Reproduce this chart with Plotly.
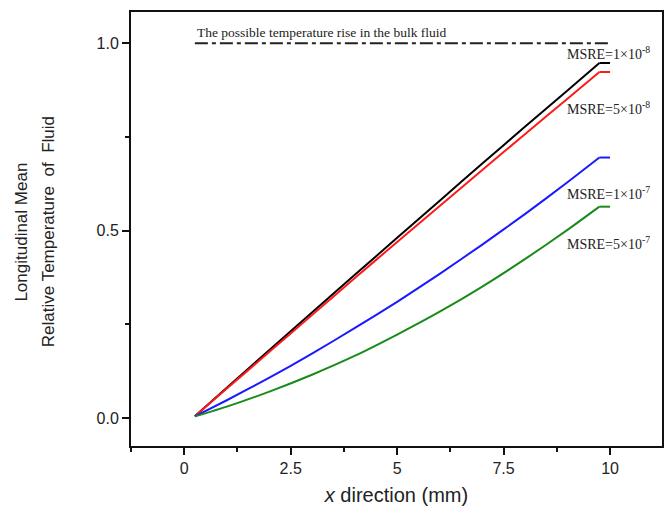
import plotly.graph_objects as go

# Data (curve part, then flat end part)
curve_x = [0.25, 1.0, 2.0, 3.0, 4.0, 5.0, 6.0, 7.0, 8.0, 9.0, 9.75]
black_y = [0.005, 0.081, 0.182, 0.282, 0.382, 0.481, 0.580, 0.679, 0.777, 0.874, 0.947]
red_y = [0.005, 0.079, 0.177, 0.275, 0.373, 0.470, 0.566, 0.662, 0.757, 0.852, 0.923]
blue_y = [0.005, 0.048, 0.108, 0.172, 0.240, 0.310, 0.385, 0.463, 0.544, 0.629, 0.695]
green_y = [0.005, 0.031, 0.071, 0.116, 0.166, 0.223, 0.284, 0.351, 0.424, 0.502, 0.564]
end_x = [9.75, 10.0]
bulk_x = [0.25, 10.0]
bulk_y = [1.0, 1.0]

labels = ["MSRE=1×10<sup>-8</sup>", "MSRE=5×10<sup>-8</sup>",
          "MSRE=1×10<sup>-7</sup>", "MSRE=5×10<sup>-7</sup>"]
label_x = [8.95, 8.95, 8.95, 8.95]
label_y = [0.974, 0.827, 0.600, 0.467]
bulk_text = "The possible temperature rise in the bulk fluid"
y_title_lines = ["Longitudinal Mean", "Relative Temperature  of  Fluid"]

x_ticks = [0, 2.5, 5, 7.5, 10]
x_ticktext = ["0", "2.5", "5", "7.5", "10"]
y_ticks = [0.0, 0.5, 1.0]
y_ticktext = ["0.0", "0.5", "1.0"]

fig = go.Figure()
fig.add_trace(go.Scatter(x=bulk_x, y=bulk_y, mode="lines",
                         line=dict(color="#222222", width=2, dash="13px,4px,4px,4px")))
for ys, c in [(black_y, "#000000"), (red_y, "#ff1a1a"),
              (blue_y, "#1a1aff"), (green_y, "#1a8a1a")]:
    fig.add_trace(go.Scatter(x=curve_x, y=ys, mode="lines",
                             line=dict(color=c, width=2, shape="spline", smoothing=0.5)))
    fig.add_trace(go.Scatter(x=end_x, y=[ys[-1], ys[-1]], mode="lines",
                             line=dict(color=c, width=2)))

serif = "Liberation Serif, Times New Roman, serif"
for t, lx, ly in zip(labels, label_x, label_y):
    fig.add_annotation(x=lx, y=ly, text=t, showarrow=False, xanchor="left",
                       yanchor="middle", font=dict(family=serif, size=14, color="#222"))
fig.add_annotation(x=0.25, y=1.0, text=bulk_text, showarrow=False, xanchor="left",
                   yanchor="bottom", yshift=1, font=dict(family=serif, size=13.5, color="#222"))

sans = "Liberation Sans, Arial, sans-serif"
for t, px in zip(y_title_lines, [-0.208, -0.156]):
    fig.add_annotation(x=px, y=0.493, xref="paper", yref="paper", text=t,
                       showarrow=False, textangle=-90, xanchor="center", yanchor="middle",
                       font=dict(family=sans, size=17, color="#222"))

fig.update_layout(
    width=669, height=508,
    margin=dict(l=131, r=5, t=12, b=62),
    plot_bgcolor="white", paper_bgcolor="white",
    showlegend=False,
    xaxis=dict(range=[-1.25, 11.22], tickvals=x_ticks, ticktext=x_ticktext,
               ticks="outside", ticklen=7, tickwidth=2, tickcolor="#111",
               minor=dict(dtick=1.25, tick0=0, ticks="outside", ticklen=4,
                          tickwidth=2, tickcolor="#111", showgrid=False),
               showline=True, linewidth=2, linecolor="#111", mirror=True,
               showgrid=False, zeroline=False,
               tickfont=dict(family=sans, size=16, color="#222"),
               title=dict(text="<i>x</i> direction (mm)", standoff=12,
                          font=dict(family=sans, size=20, color="#222"))),
    yaxis=dict(range=[-0.074, 1.083], tickvals=y_ticks, ticktext=y_ticktext,
               ticks="outside", ticklen=7, tickwidth=2, tickcolor="#111",
               minor=dict(dtick=0.25, tick0=0, ticks="outside", ticklen=4,
                          tickwidth=2, tickcolor="#111", showgrid=False),
               showline=True, linewidth=2, linecolor="#111", mirror=True,
               showgrid=False, zeroline=False,
               tickfont=dict(family=sans, size=16, color="#222")),
)

fig.write_html("out.html")
